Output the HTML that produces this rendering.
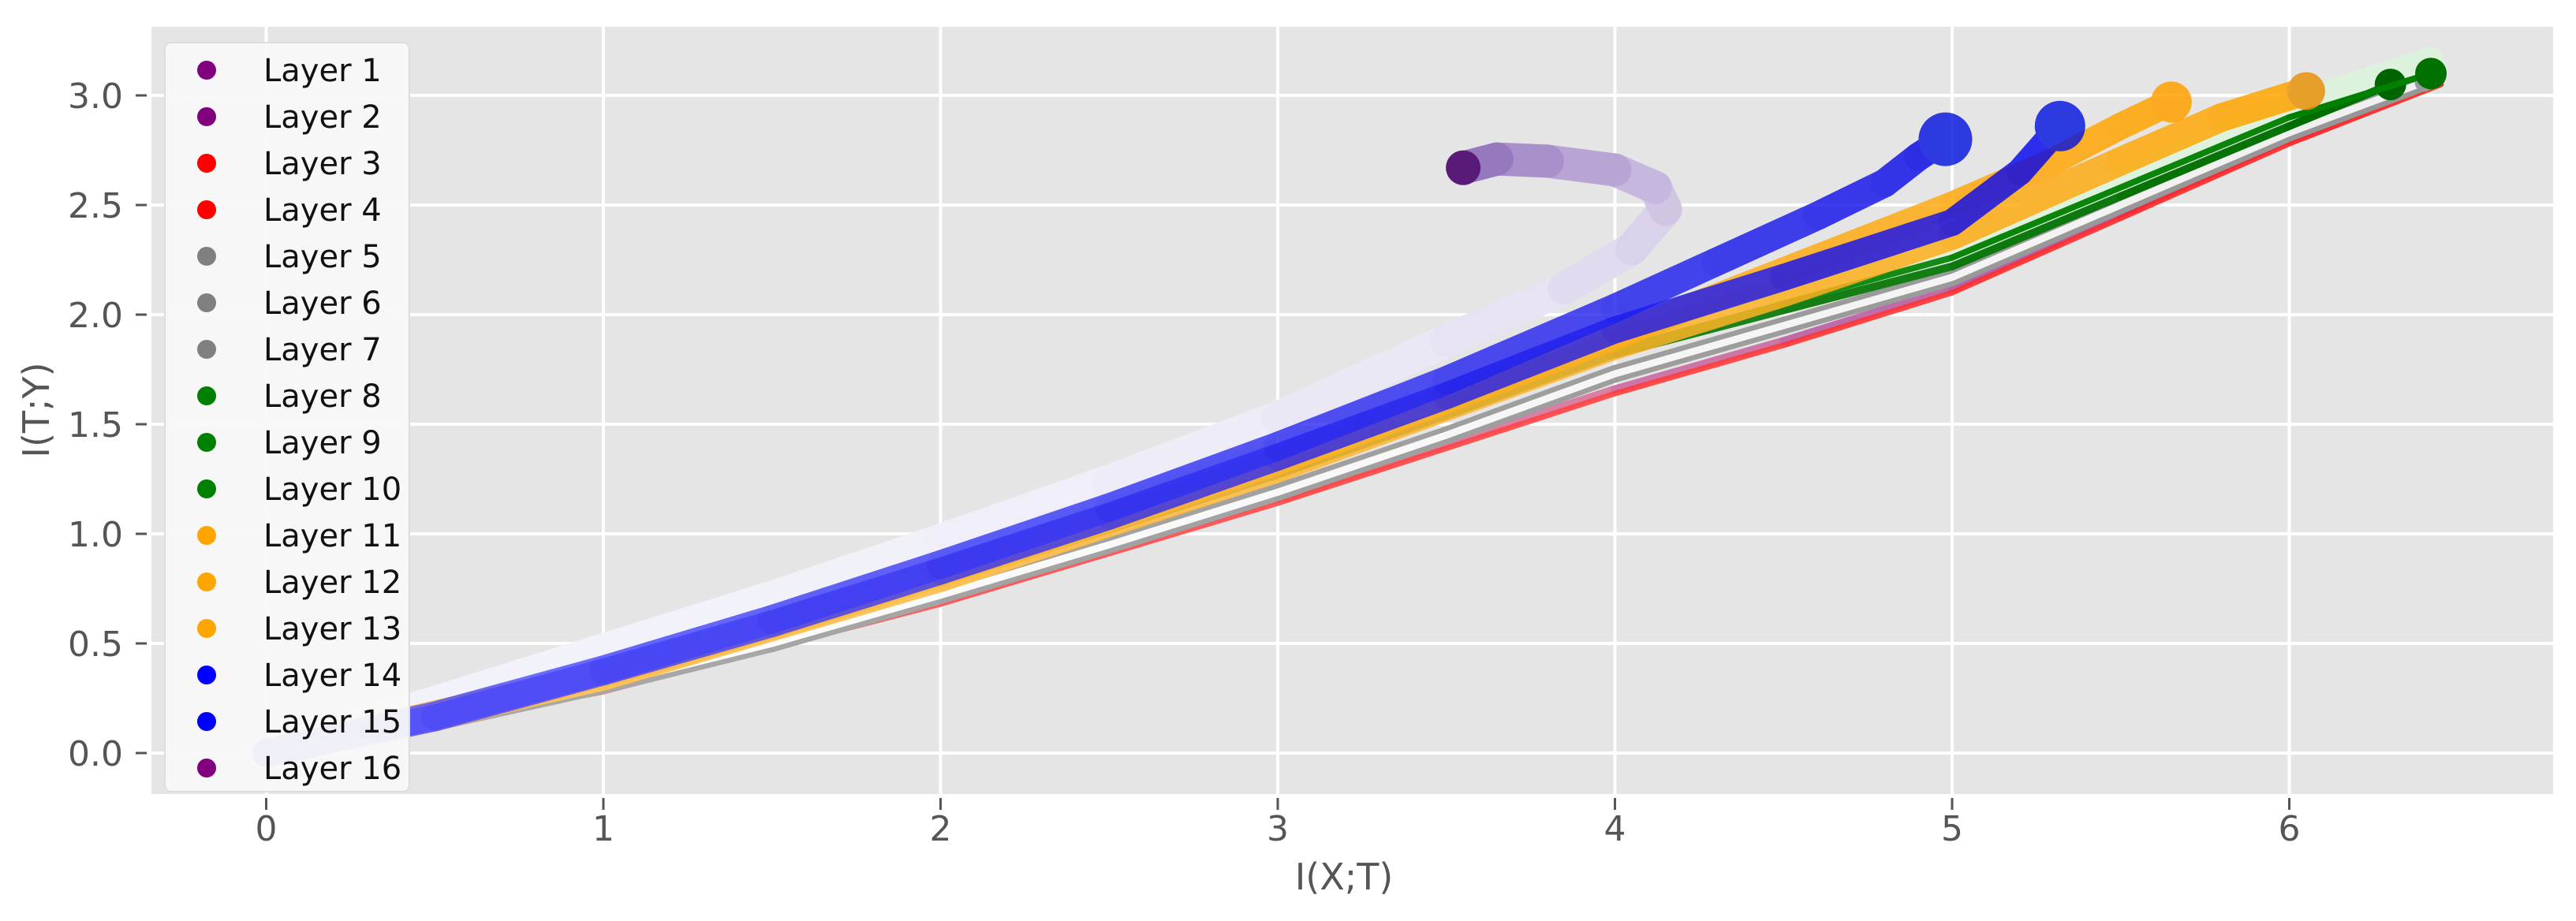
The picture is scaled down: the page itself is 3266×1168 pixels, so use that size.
<!DOCTYPE html>
<html><head><meta charset="utf-8"><style>
html,body{margin:0;padding:0;background:#fff;}
svg{display:block;font-family:"DejaVu Sans","Liberation Sans",sans-serif;}
</style></head><body>
<svg id="chart" width="3266" height="1168" viewBox="0 0 3266 1168" xmlns="http://www.w3.org/2000/svg">
<rect x="192" y="34" width="3045" height="973" fill="#e5e5e5"/>
<g id="grid"></g>
<g id="series"></g>
<g id="axes"></g>
<text x="1704" y="1128" font-size="46" fill="#555" text-anchor="middle">I(X;T)</text>
<text transform="translate(62,520) rotate(-90)" font-size="46" fill="#555" text-anchor="middle">I(T;Y)</text>
<g id="legend"></g>
</svg>
<script>
const xTicks=[0,1,2,3,4,5,6];
const yTicks=[0,0.5,1,1.5,2,2.5,3];
const yTickLabels=["0.0","0.5","1.0","1.5","2.0","2.5","3.0"];
const layerNames=["Layer 1","Layer 2","Layer 3","Layer 4","Layer 5","Layer 6","Layer 7","Layer 8","Layer 9","Layer 10","Layer 11","Layer 12","Layer 13","Layer 14","Layer 15","Layer 16"];
const layerColors=["purple","purple","red","red","gray","gray","gray","green","green","green","orange","orange","orange","blue","blue","purple"];
// trajectories (I(X;T), I(T;Y)) per epoch-sample
const redX=[0,1,2,3,4,4.5,5,5.5,6,6.45];
const redY=[0,0.3,0.7,1.16,1.66,1.88,2.12,2.46,2.8,3.07];
const grayX=[0,0.5,1,1.5,2,2.5,3,3.5,4,4.5,5,5.5,6,6.4];
const grayY=[0,0.14,0.31,0.5,0.72,0.95,1.19,1.45,1.73,1.95,2.17,2.5,2.83,3.06];
const greenX=[0,0.5,1,1.5,2,2.5,3,3.5,4,4.5,5,5.5,6,6.3];
const greenY=[0,0.15,0.34,0.55,0.78,1.02,1.27,1.54,1.82,2.02,2.22,2.54,2.86,3.05];
const green2X=[0,1,2,3,4,5,6,6.42];
const green2Y=[0,0.34,0.78,1.28,1.84,2.26,2.9,3.1];
const orange1X=[0,0.5,1,1.5,2,2.5,3,3.5,4,4.5,5,5.3,5.5,5.65];
const orange1Y=[0,0.16,0.36,0.58,0.82,1.07,1.33,1.61,1.9,2.2,2.5,2.7,2.86,2.97];
const orange2X=[0,1,2,3,4,4.5,5,5.5,5.8,6.05];
const orange2Y=[0,0.35,0.8,1.3,1.86,2.1,2.36,2.7,2.9,3.02];
const blue1X=[0,0.5,1,1.5,2,2.5,3,3.5,4,4.3,4.6,4.8,4.9,4.98];
const blue1Y=[0,0.17,0.38,0.61,0.86,1.12,1.4,1.7,2.03,2.24,2.45,2.6,2.72,2.8];
const blue2X=[0,0.5,1,1.5,2,2.5,3,3.5,4,4.5,5,5.2,5.32];
const blue2Y=[0,0.16,0.37,0.59,0.83,1.08,1.35,1.63,1.93,2.17,2.42,2.65,2.86];
const purpleX=[0,0.5,1,1.5,2,2.5,3,3.5,3.85,4.05,4.15,4.12,4.0,3.8,3.65,3.55];
const purpleY=[0,0.23,0.47,0.71,0.97,1.24,1.53,1.88,2.12,2.3,2.48,2.58,2.66,2.7,2.71,2.67];

const NS="http://www.w3.org/2000/svg";
const X0=337.5,XU=427.5,Y0=955,YU=278;
const L=192,R=3237,T=34,B=1007;
const sx=v=>X0+v*XU, sy=v=>Y0-v*YU;
function mk(tag,attrs,parent){const e=document.createElementNS(NS,tag);for(const k in attrs)e.setAttribute(k,attrs[k]);parent.appendChild(e);return e;}
const grid=document.getElementById('grid'),axes=document.getElementById('axes'),ser=document.getElementById('series'),leg=document.getElementById('legend');
xTicks.forEach(t=>{
 const g=mk('line',{x1:sx(t),x2:sx(t),y1:T,y2:B,stroke:'#fff','stroke-width':4},grid);
 
 
 const tk=mk('line',{x1:sx(t),x2:sx(t),y1:B+5,y2:B+20,stroke:'#555','stroke-width':3},axes);
 
 
 const tx=mk('text',{x:sx(t),y:1066,'font-size':44,fill:'#555','text-anchor':'middle'},axes);
 tx.textContent=String(t);
 
 
});
yTicks.forEach((t,i)=>{
 const g=mk('line',{x1:L,x2:R,y1:sy(t),y2:sy(t),stroke:'#fff','stroke-width':4},grid);
 
 
 const tk=mk('line',{x1:172,x2:186,y1:sy(t),y2:sy(t),stroke:'#555','stroke-width':3},axes);
 
 
 const tx=mk('text',{x:156,y:sy(t)+16,'font-size':44,fill:'#555','text-anchor':'end'},axes);
 tx.textContent=yTickLabels[i];
 
 
});
function mix(c1,c2,f){return 'rgb('+c1.map((v,i)=>Math.round(v+(c2[i]-v)*f)).join(',')+')';}
function traj(name,xs,ys,c0,c1,w,op,endR,endCol,pw){
 const g=mk('g',{opacity:op},ser);
 
 
 for(let i=0;i<xs.length-1;i++){
  const f=Math.pow(i/(xs.length-2),pw||1);
  const s=mk('line',{x1:sx(xs[i]),y1:sy(ys[i]),x2:sx(xs[i+1]),y2:sy(ys[i+1]),stroke:mix(c0,c1,f),'stroke-width':w,'stroke-linecap':'round'},g);
  
  
 }
 if(endR){const n=xs.length-1;
  const c=mk('circle',{cx:sx(xs[n]),cy:sy(ys[n]),r:endR,fill:endCol},g);
  
  }
}
traj('layer-16-trajectory',purpleX,purpleY,[242,242,250],[150,120,190],42,1,22,'#5a1a78',3);
traj('layer-2-trajectory',redX,redY,[255,150,150],[150,60,170],10,0.9,0,'');
traj('layer-3-trajectory',redX,redY.map(v=>v-0.02),[255,90,90],[255,30,30],7,0.9,0,'');
traj('layer-5-trajectory',grayX,grayY,[170,170,170],[150,150,150],22,1,0,'');
traj('layer-6-trajectory',grayX,grayY,[255,255,255],[240,240,240],9,1,12,'#999');
traj('layer-8-light-trajectory',green2X,green2Y.map((v,i)=>v+0.06*i/7),[225,245,225],[220,242,220],34,1,0,'');
traj('layer-8-trajectory',greenX,greenY,[80,170,80],[0,110,0],10,1,20,'#006400');
traj('layer-10-trajectory',green2X,green2Y,[60,160,60],[0,128,0],8,1,20,'#007000');
traj('layer-12-trajectory',orange2X,orange2Y,[255,190,80],[255,165,0],36,0.85,24,'#e8920a');
traj('layer-11-trajectory',orange1X,orange1Y,[255,190,80],[255,165,0],34,0.85,26,'#ffa000');
traj('layer-15-trajectory',blue2X,blue2Y,[80,80,255],[0,0,240],34,0.8,32,'#0010e0');
traj('layer-14-trajectory',blue1X,blue1Y,[80,80,255],[0,0,230],36,0.8,34,'#0010e0');
// legend
const lb=mk('rect',{x:209,y:54,width:310,height:950,rx:8,fill:'#f8f8f8','fill-opacity':0.95,stroke:'#dddddd','stroke-width':2},leg);


layerNames.forEach((n,i)=>{
 const y=89+i*59;
 const g=mk('g',{},leg);
 
 
 mk('circle',{cx:262,cy:y,r:12,fill:layerColors[i]},g);
 const t=mk('text',{x:334,y:y+14,'font-size':40,fill:'#111'},g);
 t.textContent=n;
});
</script>
</body></html>
